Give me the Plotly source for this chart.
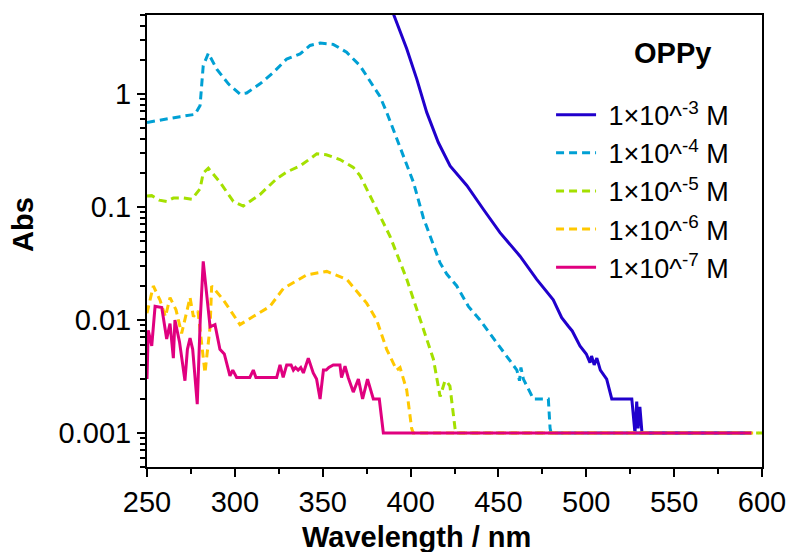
import plotly.graph_objects as go

# ---- data ----
wl_1e3 = [385, 390.2, 397.8, 403.5, 409.2, 415.8, 422.5, 432, 441.4, 450.9, 462.3, 471.8, 481.2, 486,
          489.8, 492, 496.4, 500, 502.1, 503, 504.5, 506, 508, 511.6, 514.5, 525.9, 527.7, 528.7,
          529.5, 530.5, 531.7, 594]
abs_1e3 = [7.4, 5.13, 2.51, 1.36, 0.687, 0.372, 0.231, 0.155, 0.0955, 0.0593, 0.0367, 0.0229, 0.0151, 0.0105,
           0.0088, 0.0080, 0.0059, 0.0050, 0.0042, 0.0048, 0.0040, 0.0046, 0.0036, 0.0030, 0.0020, 0.0020, 0.001, 0.0019,
           0.0011, 0.0017, 0.001, 0.001]

wl_1e4 = [250, 257.4, 268.8, 277.3, 280.2, 282, 284.9, 289.7, 296.3, 302.9, 306.7, 314.3, 321.9, 329.5,
          337.1, 342.8, 348.5, 356, 363.6, 371.2, 378.8, 382.6, 386.4, 392.1, 397.8, 401.6, 407.3, 416.8,
          420.6, 426.3, 432.9, 439.5, 449, 458.5, 460.5, 462, 462.8, 464.2, 469.9, 478.4, 479.4, 480, 594]
abs_1e4 = [0.56, 0.59, 0.63, 0.66, 0.79, 1.78, 2.29, 1.66, 1.23, 1.0, 1.02, 1.23, 1.55, 2.04,
           2.26, 2.69, 2.82, 2.75, 2.34, 1.78, 1.19, 0.95, 0.69, 0.40, 0.23, 0.166, 0.08, 0.032,
           0.0255, 0.020, 0.0132, 0.010, 0.0063, 0.0040, 0.0036, 0.0029, 0.0038, 0.0030, 0.0020, 0.0020, 0.0011, 0.001, 0.001]

wl_1e5 = [250, 252.7, 257, 261.2, 265, 270.7, 275.5, 280.2, 282, 284.9, 291.5, 299.1, 304.8, 314.3,
          323.8, 329.5, 337, 346.6, 352, 359.8, 367.4, 371.2, 378.8, 388.3, 397.8, 405.4, 413, 416.8,
          419.6, 421, 422.4, 425.3, 426, 600]
abs_1e5 = [0.125, 0.126, 0.115, 0.112, 0.12, 0.12, 0.117, 0.145, 0.20, 0.22, 0.166, 0.112, 0.102, 0.129,
           0.178, 0.204, 0.23, 0.295, 0.29, 0.263, 0.224, 0.19, 0.11, 0.055, 0.023, 0.010, 0.0045, 0.0021,
           0.0029, 0.0028, 0.0026, 0.0011, 0.001, 0.001]

wl_1e6 = [250, 253.6, 257.4, 260.5, 263.1, 266.5, 269.7, 274.5, 276.4, 279, 283, 285.9, 286.8, 293.4,
          302.9, 310.5, 320, 327.6, 340.9, 352.3, 363.7, 375, 380.7, 386.4, 392.1, 394, 397.8, 400.6,
          401.5, 598]
abs_1e6 = [0.0115, 0.020, 0.015, 0.0107, 0.0158, 0.0123, 0.0076, 0.0158, 0.0107, 0.012, 0.0034, 0.0087, 0.020, 0.0151,
           0.0091, 0.0107, 0.0132, 0.019, 0.0251, 0.0269, 0.0229, 0.0141, 0.010, 0.0055, 0.0036, 0.0038, 0.0024, 0.0011,
           0.001, 0.001]

wl_1e7 = [250, 250.7, 252.7, 254.6, 258.4, 261.2, 263.1, 265, 265.9, 268.5, 271.6, 273, 274.5, 276,
          278.6, 280.3, 282, 283.5, 285.9, 288.7, 291.5, 294, 297.2, 298.8, 301, 308.5, 310.5, 312,
          323.8, 325.7, 327.5, 329.5, 332, 333.3, 334.5, 336, 337.5, 339, 341.8, 344.6, 346.5, 348.5,
          350.4, 352, 353.5, 356, 359.8, 360.7, 362.7, 364.5, 367.4, 370.3, 372.7, 375.5, 378.8, 382.2,
          384.5, 594]
abs_1e7 = [0.003, 0.0081, 0.0059, 0.0132, 0.0129, 0.0068, 0.0093, 0.0046, 0.010, 0.0064, 0.0029, 0.0055, 0.0069, 0.0055,
           0.0018, 0.010, 0.033, 0.020, 0.0087, 0.0091, 0.0055, 0.0050, 0.0032, 0.0036, 0.0031, 0.0031, 0.0036, 0.0031,
           0.0031, 0.0040, 0.0031, 0.0040, 0.0040, 0.0036, 0.0038, 0.0036, 0.0038, 0.0034, 0.0046, 0.0034, 0.0030, 0.0020,
           0.0036, 0.0036, 0.0038, 0.0040, 0.0040, 0.0031, 0.0039, 0.0031, 0.0023, 0.0030, 0.0020, 0.0030, 0.0020, 0.0020,
           0.001, 0.001]

series_names = ["1×10^<sup>-3</sup> M", "1×10^<sup>-4</sup> M", "1×10^<sup>-5</sup> M",
                "1×10^<sup>-6</sup> M", "1×10^<sup>-7</sup> M"]
x_ticks = [250, 300, 350, 400, 450, 500, 550, 600]
y_ticks = [0.001, 0.01, 0.1, 1]
y_tick_text = ["0.001", "0.01", "0.1", "1"]

# ---- styles ----
colors = ["#2000CC", "#00A0D4", "#A4E000", "#FFC800", "#E0007F"]
dashes = ["solid", "8px,5px", "8px,5px", "8px,5px", "solid"]
FONT = "Liberation Sans, Arial, sans-serif"

fig = go.Figure()
data = [(wl_1e3, abs_1e3), (wl_1e4, abs_1e4), (wl_1e5, abs_1e5), (wl_1e6, abs_1e6), (wl_1e7, abs_1e7)]
for (x, y), name, c, d in zip(data, series_names, colors, dashes):
    fig.add_trace(go.Scatter(x=x, y=y, mode="lines", name="\u00a0" + name,
                             line=dict(color=c, width=3, dash=d)))

minor_y = [m * 10.0 ** e for e in range(-4, 1) for m in range(2, 10)]

fig.update_layout(
    width=790, height=552,
    margin=dict(l=147, r=28, t=15, b=85),
    paper_bgcolor="white", plot_bgcolor="white",
    font=dict(family=FONT, size=29, color="black"),
    showlegend=True,
    legend=dict(x=0.657, y=0.8325, xanchor="left", yanchor="top",
                bgcolor="rgba(0,0,0,0)", font=dict(size=27, family=FONT),
                itemwidth=40, tracegroupgap=0),
    xaxis=dict(range=[250, 600], tickvals=x_ticks, showline=True, mirror=True, automargin=False,
               linecolor="black", linewidth=2, ticks="outside", ticklen=8, tickwidth=2,
               tickcolor="black", showgrid=False, zeroline=False,
               tickfont=dict(size=29),
               minor=dict(dtick=25, ticks="outside", ticklen=5, tickwidth=2, tickcolor="black")),
    yaxis=dict(type="log", range=[-3.301, 0.699], tickvals=y_ticks, ticktext=y_tick_text,
               showline=True, mirror=True, linecolor="black", linewidth=2, automargin=False,
               ticks="outside", ticklen=8, tickwidth=2, tickcolor="black",
               showgrid=False, zeroline=False, tickfont=dict(size=29),
               minor=dict(tickvals=minor_y, ticks="outside", ticklen=5, tickwidth=2,
                          tickcolor="black")),
    annotations=[
        dict(text="<b>Wavelength / nm</b>", xref="paper", yref="paper", x=0.4374, y=-0.155,
             xanchor="center", yanchor="middle", showarrow=False, font=dict(size=29)),
        dict(text="<b>Abs</b>", xref="paper", yref="paper", x=-0.2016, y=0.5354,
             xanchor="center", yanchor="middle", showarrow=False, textangle=-90,
             font=dict(size=29)),
        dict(text="<b>OPPy</b>", xref="paper", yref="paper", x=0.8537, y=0.916,
             xanchor="center", yanchor="middle", showarrow=False, font=dict(size=29)),
    ],
)

fig.write_html("out.html")
